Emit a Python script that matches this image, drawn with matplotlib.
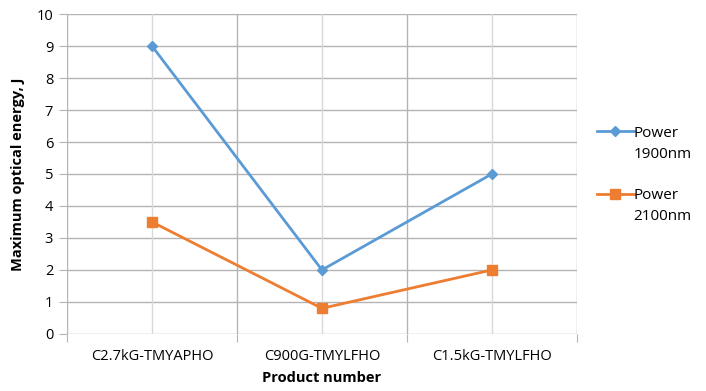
import numpy as np
import matplotlib.pyplot as plt
from matplotlib.text import Annotation

products = ["C2.7kG-TMYAPHO", "C900G-TMYLFHO", "C1.5kG-TMYLFHO"]
power_1900 = [9, 2, 5]
power_2100 = [3.5, 0.8, 2]
series_names = ["Power", "Power"]
series_units = ["1900nm", "2100nm"]

plt.rcParams['font.family'] = ['Open Sans', 'DejaVu Sans']

fig = plt.figure(figsize=(7.06, 3.91), dpi=100)
ax = fig.add_axes([0.095, 0.146, 0.722, 0.818])

x = np.arange(len(products)) + 0.5
ax.set_xlim(0, 3)
ax.set_ylim(0, 10)

# grid lines
for yv in range(0, 11):
    ax.axhline(yv, color="#b4b4b4", lw=1, zorder=0)
for xv in x:
    ax.axvline(xv, color="#d9d9d9", lw=1, zorder=0)
for xv in range(0, 4):
    ax.axvline(xv, color="#b4b4b4", lw=1, zorder=0)

ax.plot(x, power_1900, color="#5B9BD5", lw=2, marker="D", ms=5.5, label=series_names[0])
ax.plot(x, power_2100, color="#ED7D31", lw=2, marker="s", ms=6.5, label=series_names[1])

for s in ax.spines.values():
    s.set_visible(False)

ax.set_yticks(range(0, 11))
ax.tick_params(axis="y", length=6, color="#b4b4b4", labelsize=10.5, pad=4)
ax.set_xticks([0, 1, 2, 3])
ax.set_xticklabels([])
ax.set_xticks(x, minor=True)
ax.set_xticklabels(products, minor=True)
ax.tick_params(axis="x", which="major", length=6, color="#b4b4b4")
ax.tick_params(axis="x", which="minor", length=0, labelsize=10.5, pad=11)

ax.set_xlabel("Product number", fontweight="bold", fontsize=10.5, labelpad=5)
ax.set_ylabel("Maximum optical energy, J", fontweight="bold", fontsize=10.5, labelpad=8)

leg = fig.legend(loc="upper left", bbox_to_anchor=(0.826, 0.714), frameon=False,
                 fontsize=11, labelspacing=3.1, handlelength=2.4, handletextpad=0.0)

# second line of each legend label, below the first (drawn after the legend)
for txt, unit in zip(leg.get_texts(), series_units):
    ann = Annotation(unit, xy=(0, 0), xycoords=txt, xytext=(0, -4.5),
                     textcoords="offset points", ha="left", va="top", fontsize=11)
    ann.set_zorder(10)
    fig.add_artist(ann)

fig.savefig("out.png", dpi=100)
